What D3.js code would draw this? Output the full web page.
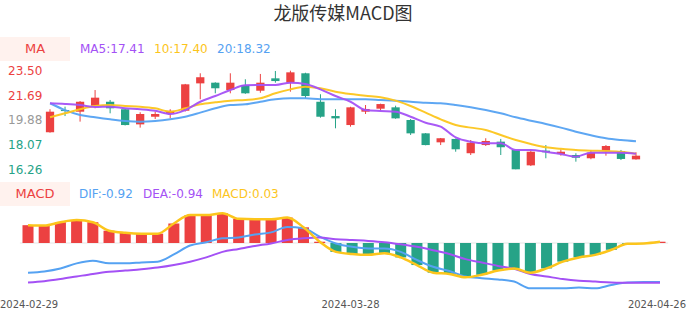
<!DOCTYPE html>
<html>
<head>
<meta charset="utf-8">
<script src="https://cdn.jsdelivr.net/npm/d3@7/dist/d3.min.js"></script>
<style>
  html, body { margin: 0; padding: 0; background: #fff; }
  svg { display: block; font-family: "DejaVu Sans", sans-serif; }
</style>
</head>
<body>
<svg id="chart" width="686" height="320"></svg>
<script>
// ---------------- DATA ----------------
const title = "龙版传媒MACD图";
const dates = ["2024-02-29","2024-03-01","2024-03-04","2024-03-05","2024-03-06","2024-03-07","2024-03-08",
  "2024-03-11","2024-03-12","2024-03-13","2024-03-14","2024-03-15","2024-03-18","2024-03-19","2024-03-20",
  "2024-03-21","2024-03-22","2024-03-25","2024-03-26","2024-03-27","2024-03-28","2024-03-29","2024-04-01",
  "2024-04-02","2024-04-03","2024-04-08","2024-04-09","2024-04-10","2024-04-11","2024-04-12","2024-04-15",
  "2024-04-16","2024-04-17","2024-04-18","2024-04-19","2024-04-22","2024-04-23","2024-04-24","2024-04-25","2024-04-26"];
const openP  = [18.98,20.61,20.49,20.93,21.22,20.67,19.56,20.12,20.37,20.56,22.57,22.62,22.08,22.45,22.03,22.94,22.62,23.31,21.22,20.17,19.51,20.49,20.71,20.81,19.88,18.90,18.24,18.49,17.44,18.04,18.29,17.68,16.55,17.63,17.38,17.31,17.07,17.63,17.60,16.99];
const closeP = [20.49,20.54,21.22,21.52,20.74,19.51,20.32,20.32,20.56,22.50,23.02,22.21,22.62,21.84,22.62,22.74,23.38,21.64,20.12,20.00,20.81,20.69,21.05,20.00,18.90,18.04,18.54,17.73,18.21,18.34,17.88,16.26,17.55,17.51,17.55,17.11,17.48,17.97,17.02,17.26];
const highP  = [20.67,20.86,21.27,22.08,21.35,20.70,20.45,20.49,20.67,22.53,23.31,22.65,23.31,22.87,23.26,23.48,23.50,23.35,21.77,20.67,20.85,20.98,21.08,20.93,19.95,18.92,18.56,18.52,18.41,18.54,18.49,17.70,17.60,18.04,17.73,17.44,17.68,18.04,17.68,17.51];
const lowP   = [18.95,20.17,19.76,20.74,20.37,19.48,19.32,19.95,20.00,20.50,21.40,21.84,21.84,21.80,21.88,22.62,21.96,21.47,20.05,19.27,19.39,20.32,20.56,19.97,18.78,18.02,18.04,17.55,17.31,17.97,17.31,16.26,16.50,17.07,17.26,16.82,17.00,17.26,16.94,16.97];
const ma5  = [21.11,21.06,20.98,20.83,20.86,20.74,20.67,20.56,20.32,20.61,21.22,21.64,22.08,22.43,22.45,22.45,22.62,22.52,22.13,21.64,21.22,20.61,20.54,20.49,20.12,19.68,19.39,18.61,18.29,18.17,18.17,17.68,17.68,17.55,17.38,17.19,17.48,17.48,17.48,17.41];
const ma10 = [20.08,20.37,20.67,20.91,20.98,20.91,20.86,20.74,20.49,20.74,21.03,21.18,21.30,21.35,21.47,21.84,22.13,22.33,22.21,21.96,21.79,21.66,21.55,21.30,20.91,20.42,19.93,19.51,19.32,19.15,18.78,18.41,18.12,17.88,17.77,17.68,17.63,17.60,17.55,17.40];
const ma20 = [21.11,20.61,20.25,20.08,19.93,19.81,19.76,19.81,19.93,20.12,20.42,20.74,20.98,21.03,21.22,21.40,21.47,21.47,21.40,21.40,21.40,21.40,21.35,21.30,21.22,21.15,21.11,20.98,20.81,20.61,20.37,20.08,19.83,19.59,19.32,19.02,18.76,18.54,18.41,18.32];
const priceTicks = [23.50, 21.69, 19.88, 18.07, 16.26];
const difV  = [-0.70,-0.67,-0.60,-0.48,-0.42,-0.48,-0.48,-0.46,-0.44,-0.27,-0.06,0.02,0.11,0.13,0.20,0.25,0.38,0.35,0.15,-0.01,-0.09,-0.13,-0.13,-0.21,-0.40,-0.56,-0.66,-0.79,-0.83,-0.86,-0.91,-1.07,-1.07,-1.07,-1.05,-1.07,-0.99,-0.93,-0.92,-0.92];
const deaV  = [-0.93,-0.90,-0.85,-0.79,-0.73,-0.68,-0.65,-0.62,-0.58,-0.52,-0.44,-0.34,-0.21,-0.14,-0.07,-0.01,0.07,0.11,0.13,0.09,0.07,0.05,0.02,-0.03,-0.09,-0.17,-0.26,-0.38,-0.46,-0.54,-0.61,-0.73,-0.79,-0.85,-0.89,-0.91,-0.93,-0.94,-0.94,-0.94];
const macdV = [0.42,0.41,0.49,0.54,0.49,0.29,0.24,0.22,0.22,0.46,0.66,0.66,0.70,0.57,0.56,0.56,0.60,0.37,0.03,-0.21,-0.26,-0.28,-0.24,-0.34,-0.52,-0.70,-0.73,-0.81,-0.75,-0.65,-0.60,-0.70,-0.60,-0.44,-0.34,-0.28,-0.16,-0.02,-0.01,0.03];
const xLabelIdx = [0, 20, 39];

// ---------------- STYLE ----------------
const RED = "#ec4141", GREEN = "#26a387", PURPLE = "#a451f5", YELLOW = "#fcc51c", BLUE = "#55a2f2";
const svg = d3.select("#chart");
const idx = d3.range(dates.length);

svg.append("text").attr("x", 343).attr("y", 15).attr("text-anchor", "middle")
  .attr("dominant-baseline", "middle").attr("font-family", "'Noto Sans CJK SC', sans-serif")
  .attr("font-size", 18).attr("fill", "#333").text(title);

// ---------------- CANDLE PANEL ----------------
const x = d3.scaleBand().domain(idx).range([42.5, 643.5]).paddingInner(0.45).paddingOuter(0.225);
const y = d3.scaleLinear().domain([16.26, 23.50]).range([169.3, 70.7]);
const cx = i => x(i) + x.bandwidth() / 2;

// legend
const leg1 = svg.append("g");
leg1.append("rect").attr("x", 0).attr("y", 37).attr("width", 70).attr("height", 24).attr("fill", "#fff2ee");
leg1.append("text").attr("x", 35).attr("y", 49).attr("text-anchor", "middle").attr("dominant-baseline", "middle")
  .attr("font-size", 13).attr("fill", RED).text("MA");
const maLeg = [["MA5:" + ma5[ma5.length-1].toFixed(2), PURPLE, 80], ["10:" + ma10[ma10.length-1].toFixed(2), YELLOW, 154], ["20:" + ma20[ma20.length-1].toFixed(2), BLUE, 217]];
leg1.selectAll("text.l").data(maLeg).join("text").attr("class", "l")
  .attr("x", d => d[2]).attr("y", 49).attr("dominant-baseline", "middle").attr("font-size", 12)
  .attr("fill", d => d[1]).text(d => d[0]);

// y axis labels
const yAxis = d3.axisRight(y).tickValues(priceTicks).tickSize(0).tickPadding(0).tickFormat(d3.format(".2f"));
const ya = svg.append("g").attr("transform", "translate(8,0)").call(yAxis);
ya.select(".domain").remove();
ya.selectAll("text").attr("font-size", 12).attr("font-family", "'DejaVu Sans', sans-serif")
  .attr("fill", d => d > 19.88 ? RED : (d < 19.88 ? GREEN : "#999"));

// candles
const cg = svg.append("g");
const col = i => closeP[i] >= openP[i] ? RED : GREEN;
cg.selectAll("line.wick").data(idx).join("line").attr("class", "wick")
  .attr("x1", cx).attr("x2", cx).attr("y1", i => y(highP[i])).attr("y2", i => y(lowP[i]))
  .attr("stroke", col).attr("stroke-width", 1);
cg.selectAll("rect.body").data(idx).join("rect").attr("class", "body")
  .attr("x", i => x(i)).attr("width", x.bandwidth())
  .attr("y", i => y(Math.max(openP[i], closeP[i])))
  .attr("height", i => Math.max(1, Math.abs(y(openP[i]) - y(closeP[i]))))
  .attr("fill", col);

const maLine = arr => d3.line().x((d, i) => cx(i)).y(d => y(d)).curve(d3.curveMonotoneX)(arr);
[[ma20, BLUE], [ma10, YELLOW], [ma5, PURPLE]].forEach(([arr, c]) => {
  svg.append("path").attr("d", maLine(arr)).attr("fill", "none").attr("stroke", c)
    .attr("stroke-width", 2).attr("stroke-opacity", 0.95);
});

// ---------------- MACD PANEL ----------------
const leg2 = svg.append("g");
leg2.append("rect").attr("x", 0).attr("y", 182).attr("width", 70).attr("height", 24).attr("fill", "#fff2ee");
leg2.append("text").attr("x", 35).attr("y", 194).attr("text-anchor", "middle").attr("dominant-baseline", "middle")
  .attr("font-size", 13).attr("fill", RED).text("MACD");
const mLeg = [["DIF:" + difV[difV.length-1].toFixed(2), BLUE, 79], ["DEA:" + deaV[deaV.length-1].toFixed(2), PURPLE, 143], ["MACD:" + macdV[macdV.length-1].toFixed(2), YELLOW, 212]];
leg2.selectAll("text.l").data(mLeg).join("text").attr("class", "l")
  .attr("x", d => d[2]).attr("y", 194).attr("dominant-baseline", "middle").attr("font-size", 12)
  .attr("fill", d => d[1]).text(d => d[0]);

const x2 = d3.scaleBand().domain(idx).range([19.9, 668.1]).paddingInner(0.32).paddingOuter(0.16);
const cx2 = i => x2(i) + x2.bandwidth() / 2;
const y2 = d3.scaleLinear().domain([-1.2, 0.9]).range([243 + 1.2 * 42.4, 243 - 0.9 * 42.4]);

svg.append("line").attr("x1", x2.range()[0]).attr("x2", x2.range()[1]).attr("y1", y2(0)).attr("y2", y2(0))
  .attr("stroke", "#e6e6e6").attr("stroke-width", 1);

svg.append("g").selectAll("rect").data(idx).join("rect")
  .attr("x", i => x2(i)).attr("width", x2.bandwidth())
  .attr("y", i => Math.min(y2(0), y2(macdV[i])))
  .attr("height", i => Math.abs(y2(macdV[i]) - y2(0)))
  .attr("fill", i => macdV[i] >= 0 ? RED : GREEN);

const mLine = arr => d3.line().x((d, i) => cx2(i)).y(d => y2(d)).curve(d3.curveMonotoneX)(arr);
[[difV, BLUE, 2], [deaV, PURPLE, 2], [macdV, YELLOW, 2.5]].forEach(([arr, c, w]) => {
  svg.append("path").attr("d", mLine(arr)).attr("fill", "none").attr("stroke", c).attr("stroke-width", w);
});

// ---------------- X AXIS ----------------
const xAxis = d3.axisBottom(x).tickValues(xLabelIdx).tickSize(0).tickPadding(0).tickFormat(i => dates[i]);
const xa = svg.append("g").attr("transform", "translate(0,301)").call(xAxis);
xa.select(".domain").remove();
xa.selectAll("text").attr("font-size", 10).attr("font-family", "'DejaVu Sans', sans-serif").attr("fill", "#555")
  .attr("text-anchor", (d, k) => k === 0 ? "start" : (k === xLabelIdx.length - 1 ? "end" : "middle"));
xa.selectAll(".tick").attr("transform", (d, k) => {
  const px = k === 0 ? 0 : (k === xLabelIdx.length - 1 ? 686 : cx(d));
  return `translate(${px},0)`;
});
</script>
</body>
</html>
